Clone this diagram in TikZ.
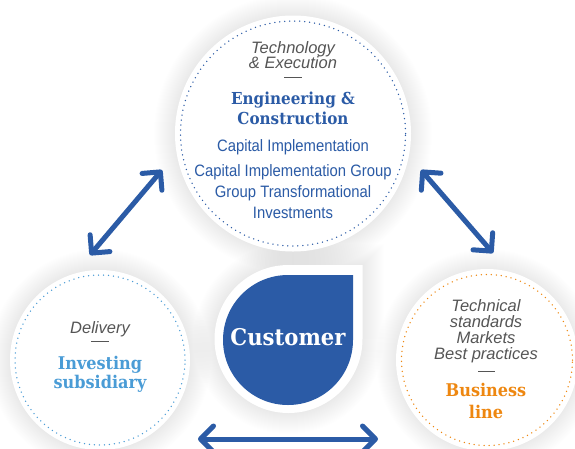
\documentclass[tikz,border=0pt]{standalone}
\usepackage{fontspec}
\setmainfont{Liberation Sans}
\newfontfamily\narrowsans[FakeStretch=0.9]{Liberation Sans}
\newfontfamily\slabfont[FakeStretch=0.92]{DejaVu Serif}
\usetikzlibrary{arrows.meta}
\definecolor{cblue}{HTML}{2B5BA6}
\definecolor{lblue}{HTML}{4A9CD6}
\definecolor{corange}{HTML}{EE8710}
\definecolor{cgray}{HTML}{555555}
\newcommand\dropfill[4]{%
  \fill[#4] (#1,#2) ++(0,-#3) -- ++(#3,0) -- ++(0,#3)
    arc[start angle=0,end angle=-270,radius=#3 pt] -- cycle;}
\begin{document}
\begin{tikzpicture}[x=1pt,y=-1pt,
  graytext/.style={text=cgray,font=\fontsize{16.5}{16.5}\selectfont\itshape,anchor=base,inner sep=0pt},
  bluetext/.style={text=cblue,font=\narrowsans\fontsize{16.5}{16.5}\selectfont,anchor=base,inner sep=0pt},
  slabtext/.style={font=\slabfont\bfseries\fontsize{16.5}{16.5}\selectfont,anchor=base,inner sep=0pt},
  dotring/.style={line width=1.5pt,line cap=round,dash pattern=on 0pt off 5pt},
  dblarrow/.style={cblue,line width=5pt,{Straight Barb[length=13pt,width=26pt,round]}-{Straight Barb[length=13pt,width=26pt,round]}},
  sepdash/.style={cgray,line width=1.3pt},
  shadowlayer/.style={black,opacity=0.0055}
]
\useasboundingbox (0,0) rectangle (575,448);
\clip (0,0) rectangle (575,448);
\fill[white] (0,0) rectangle (575,448);
% centres
\coordinate (TC) at (293,133.5);
\coordinate (LC) at (100,360);
\coordinate (RC) at (487,360);
% soft shadows
\foreach \i in {1,...,22}{
  \pgfmathsetmacro\ra{117+\i}
  \pgfmathsetmacro\rb{89+\i}
  \fill[shadowlayer] (TC) circle[radius=\ra pt];
  \fill[shadowlayer] (LC) circle[radius=\rb pt];
  \fill[shadowlayer] (RC) circle[radius=\rb pt];
  \pgfmathsetmacro\rc{73+\i}
  \dropfill{288.5}{339}{\rc}{shadowlayer}
}
% discs
\fill[white] (TC) circle[radius=118pt];
\fill[white] (LC) circle[radius=90pt];
\fill[white] (RC) circle[radius=91pt];
\dropfill{288.5}{339}{74}{white}
\dropfill{288}{340}{65}{cblue}
% dotted rings
\draw[dotring,cblue] (TC) circle[radius=112.5pt];
\draw[dotring,lblue] (LC) circle[radius=85pt];
\draw[dotring,corange] (RC) circle[radius=85.5pt];
% top text
\node[graytext] (t1) at (293,53.3) {Technology};
\node[graytext] (t2) at (293,68.5) {\& Execution};
\draw[sepdash] (284,77.3) -- (302,77.3);
\node[slabtext,text=cblue] (t3) at (293,104.3) {Engineering \&};
\node[slabtext,text=cblue] (t4) at (293,124) {Construction};
\node[bluetext] (t5) at (293,151) {Capital Implementation};
\node[bluetext] (t6) at (293,176) {Capital Implementation Group};
\node[bluetext] (t7) at (293,197.3) {Group Transformational};
\node[bluetext] (t8) at (293,218.5) {Investments};
% left text
\node[graytext] (l1) at (100,333.3) {Delivery};
\draw[sepdash] (91,341.7) -- (109,341.7);
\node[slabtext,text=lblue,font=\slabfont\bfseries\fontsize{17.5}{17.5}\selectfont] (l2) at (100,369) {Investing};
\node[slabtext,text=lblue,font=\slabfont\bfseries\fontsize{17.5}{17.5}\selectfont] (l3) at (100,388.3) {subsidiary};
% right text
\node[graytext] (r1) at (486,311.7) {Technical};
\node[graytext] (r2) at (486,327) {standards};
\node[graytext] (r3) at (486,343.3) {Markets};
\node[graytext] (r4) at (486,359.3) {Best practices};
\draw[sepdash] (478,371.7) -- (495,371.7);
\node[slabtext,text=corange,font=\slabfont\bfseries\fontsize{17.5}{17.5}\selectfont] (r5) at (486,396.7) {Business};
\node[slabtext,text=corange,font=\slabfont\bfseries\fontsize{17.5}{17.5}\selectfont] (r6) at (486,418.3) {line};
% customer
\node[slabtext,text=white,font=\slabfont\bfseries\fontsize{23}{23}\selectfont] (cust) at (288,345) {Customer};
% arrows
\coordinate (la1) at (90,255);
\coordinate (la2) at (162,170);
\coordinate (ra1) at (421,170);
\coordinate (ra2) at (493,253);
\coordinate (ba1) at (198,439);
\coordinate (ba2) at (378,439);
\draw[dblarrow] (la1) -- (la2);
\draw[dblarrow] (ra1) -- (ra2);
\draw[dblarrow] (ba1) -- (ba2);
\end{tikzpicture}
\end{document}
